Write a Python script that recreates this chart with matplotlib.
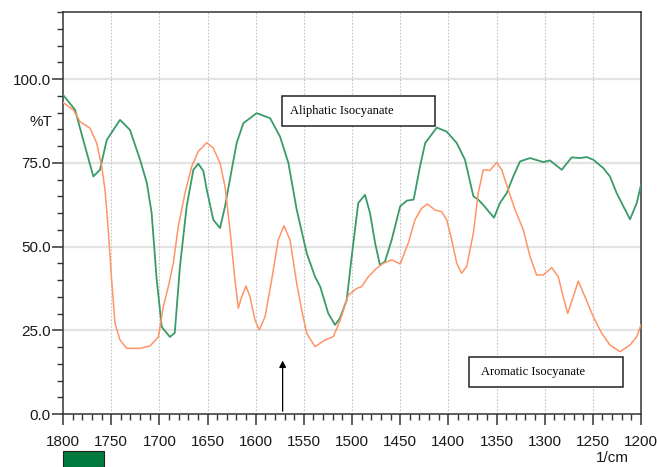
import matplotlib
matplotlib.use("Agg")
import matplotlib.pyplot as plt
from matplotlib.patches import Rectangle
from matplotlib.ticker import MultipleLocator, FormatStrFormatter

# aliphatic isocyanate spectrum (green)
aliph_wn = [1800, 1787.5, 1779, 1768.5, 1761.6, 1754.6, 1740.8, 1730.5, 1720, 1713,
            1708, 1702.7, 1697.5, 1689, 1684, 1678.6, 1671.6, 1664.7, 1659.5, 1654.3,
            1650.8, 1644, 1637, 1631.8, 1624.9, 1619.7, 1612.8, 1599, 1585, 1574.7,
            1566, 1557.4, 1547, 1538.4, 1533, 1524.6, 1517.6, 1512.5, 1505.5, 1500.3,
            1493.5, 1486.5, 1481.3, 1476, 1471, 1465.8, 1458.8, 1450, 1443, 1436,
            1429.4, 1424, 1412, 1401.7, 1391.3, 1382.7, 1374, 1369, 1363.7, 1356.8,
            1352.6, 1346.4, 1339.5, 1332.6, 1325.6, 1315.2, 1301.4, 1294.5, 1282.3, 1272,
            1263.3, 1256.4, 1249.5, 1239.1, 1232.2, 1225.2, 1218.3, 1211.4, 1204.4, 1200]
aliph_t = [95.3, 90.8, 81.8, 70.9, 72.9, 81.8, 87.8, 84.8, 75.9, 69,
           60, 40, 26, 23, 24.2, 44, 62, 72.9, 74.7, 72.5,
           67, 58, 55.5, 62, 72.9, 80.9, 86.8, 89.8, 88.3, 82.8,
           74.9, 61, 48, 41, 38, 30, 26.6, 28.6, 34, 47,
           63, 65.4, 60, 51, 44.5, 45.5, 52, 62, 63.7, 64,
           73.9, 80.9, 85.5, 84.3, 80.9, 75.9, 65, 64, 62.4, 60,
           58.6, 63, 65.9, 70.9, 75.4, 76.4, 75.2, 75.7, 72.9, 76.6,
           76.4, 76.7, 75.9, 73.4, 70.9, 65.9, 62, 58.1, 63, 68.4]

# aromatic isocyanate spectrum (orange)
arom_wn = [1800, 1789.3, 1782.4, 1772, 1765, 1759.8, 1756.4, 1753, 1749.5, 1746,
           1740.8, 1733.9, 1720, 1709.7, 1701, 1695.9, 1690.7, 1685.5, 1680.3, 1673.4,
           1666.4, 1659.5, 1650.8, 1644, 1637, 1631.8, 1626.7, 1621.5, 1618, 1614.5,
           1610, 1605.9, 1600.7, 1596.2, 1590.3, 1583.4, 1576.5, 1570.6, 1564.4, 1557.4,
           1552.2, 1547, 1538.4, 1528, 1519.4, 1512.5, 1503.8, 1495, 1490, 1483,
           1474.4, 1467.5, 1458.8, 1450, 1441.6, 1434.6, 1427.7, 1421.8, 1413.9, 1407,
           1401.7, 1396.5, 1391.3, 1386.2, 1381, 1374, 1369, 1363.7, 1356.8, 1349.8,
           1344.6, 1337.7, 1330.8, 1322.2, 1315.2, 1308.3, 1301.4, 1292.7, 1285.9, 1280.7,
           1276.1, 1270.3, 1265.1, 1258.2, 1249.5, 1240.8, 1232.2, 1221.8, 1211.4, 1204.4,
           1200]
arom_t = [93, 90.8, 87.3, 85.3, 80.9, 73.9, 66.9, 55, 40, 27,
          22.1, 19.6, 19.6, 20.3, 23, 32, 38, 45, 56, 65.9,
          73.9, 78.4, 81, 79.4, 74.9, 67.9, 55, 40, 31.6, 35,
          38.2, 35, 28, 25.1, 29, 40, 52, 56.2, 52, 39,
          31, 24.1, 20.1, 22.1, 23.1, 27.8, 35.5, 37.5, 38, 41,
          43.5, 45, 46, 44.8, 51, 58, 61.4, 62.7, 60.9, 60.4,
          58, 52, 45, 42, 44, 54, 65.9, 72.9, 72.7, 75.1,
          72.9, 66.9, 61, 55, 47, 41.5, 41.5, 43.7, 41, 35,
          30, 35, 39.7, 35, 29, 24.1, 20.6, 18.6, 20.6, 23.1,
          26.6]

y_ticks = [0, 25, 50, 75, 100]
x_ticks = [1800, 1750, 1700, 1650, 1600, 1550, 1500, 1450, 1400, 1350, 1300, 1250, 1200]

fig = plt.figure(figsize=(6.57, 4.67), dpi=100)
ax = fig.add_axes([63/657, 53/467, 578/657, 402/467])

ax.plot(aliph_wn, aliph_t, color='#3a9a68', lw=1.3, zorder=3)
ax.plot(arom_wn, arom_t, color='#ff9466', lw=1.1, zorder=3)

ax.set_xlim(1800, 1200)
ax.set_ylim(0, 120)
ax.set_xticks(x_ticks)
ax.set_yticks(y_ticks)
ax.xaxis.set_minor_locator(MultipleLocator(10))
ax.yaxis.set_minor_locator(MultipleLocator(5))
ax.yaxis.set_major_formatter(FormatStrFormatter('%.1f'))

for y in y_ticks[1:]:
    ax.axhline(y, color='#e3e3e3', lw=1.6, zorder=1)
for x in x_ticks[1:-1]:
    ax.axvline(x, color='#c4c4c4', lw=0.8, ls=(0, (1.5, 1.5)), zorder=1)

ax.tick_params(axis='both', which='major', length=8, width=1.1, color='#333333',
               labelsize=11, labelcolor='#1a1a1a')
ax.tick_params(axis='both', which='minor', length=4.5, width=1.0, color='#333333')
ax.tick_params(axis='x', which='major', pad=7)
ax.tick_params(axis='y', which='major', pad=1)
for lab in ax.get_xticklabels() + ax.get_yticklabels():
    lab.set_family('Liberation Sans')
for s in ax.spines.values():
    s.set_color('#333333')
    s.set_linewidth(1.1)

# label boxes
ax.add_patch(Rectangle((1572.7, 86.0), 1413.9 - 1572.7, 9.0, facecolor='white',
                       edgecolor='#222222', lw=1.1, zorder=4))
ax.text(1564.4, 90.5, 'Aliphatic Isocyanate', family='Liberation Serif', fontsize=9,
        ha='left', va='center', zorder=5)
ax.add_patch(Rectangle((1378.6, 8.1), 1218.7 - 1378.6, 8.9, facecolor='white',
                       edgecolor='#222222', lw=1.1, zorder=4))
ax.text(1366.4, 12.5, 'Aromatic Isocyanate', family='Liberation Serif', fontsize=9,
        ha='left', va='center', zorder=5)

ax.annotate('', xy=(1572, 16.8), xytext=(1572, 0),
            arrowprops=dict(arrowstyle='-|>', color='black', lw=0.9, mutation_scale=10),
            zorder=5)

fig.text(41/657, 1 - 122/467, '%T', family='Liberation Sans', fontsize=11,
         color='#1a1a1a', ha='center', va='center')
fig.text(612/657, 9/467, '1/cm', family='Liberation Sans', fontsize=11,
         color='#1a1a1a', ha='center', va='center')
fig.add_artist(Rectangle((63/657, 0), 41/657, 16/467, transform=fig.transFigure,
                         facecolor='#007a3d', edgecolor='#222222', lw=0.8))

fig.savefig('out.png', dpi=100)
